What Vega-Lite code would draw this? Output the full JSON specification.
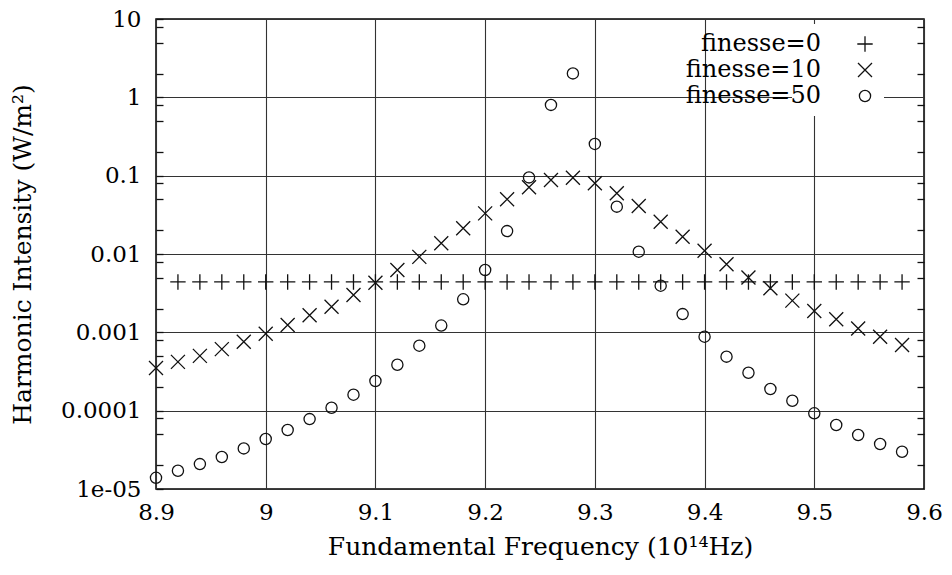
{
  "$schema": "https://vega.github.io/schema/vega-lite/v6.json",
  "width": 768,
  "height": 470,
  "autosize": "none",
  "padding": {"left": 156, "top": 19, "right": 28, "bottom": 86},
  "background": "white",
  "config": {
    "font": "DejaVu Serif",
    "view": {"stroke": "#000", "strokeWidth": 1.5},
    "axis": {
      "gridColor": "#333",
      "gridWidth": 1.1,
      "labelColor": "#000",
      "titleColor": "#000",
      "labelFont": "DejaVu Serif",
      "titleFont": "DejaVu Serif",
      "labelFontSize": 23,
      "titleFontSize": 25,
      "titleFontWeight": "normal",
      "domain": false,
      "labelOverlap": false
    },
    "legend": {
      "labelFont": "DejaVu Serif",
      "labelFontSize": 24,
      "labelColor": "#000"
    }
  },
  "data": {
    "values": [
      {"f": 8.92, "I": 0.0044, "s": "finesse=0"},
      {"f": 8.94, "I": 0.0044, "s": "finesse=0"},
      {"f": 8.96, "I": 0.0044, "s": "finesse=0"},
      {"f": 8.98, "I": 0.0044, "s": "finesse=0"},
      {"f": 9.00, "I": 0.0044, "s": "finesse=0"},
      {"f": 9.02, "I": 0.0044, "s": "finesse=0"},
      {"f": 9.04, "I": 0.0044, "s": "finesse=0"},
      {"f": 9.06, "I": 0.0044, "s": "finesse=0"},
      {"f": 9.08, "I": 0.0044, "s": "finesse=0"},
      {"f": 9.10, "I": 0.0044, "s": "finesse=0"},
      {"f": 9.12, "I": 0.0044, "s": "finesse=0"},
      {"f": 9.14, "I": 0.0044, "s": "finesse=0"},
      {"f": 9.16, "I": 0.0044, "s": "finesse=0"},
      {"f": 9.18, "I": 0.0044, "s": "finesse=0"},
      {"f": 9.20, "I": 0.0044, "s": "finesse=0"},
      {"f": 9.22, "I": 0.0044, "s": "finesse=0"},
      {"f": 9.24, "I": 0.0044, "s": "finesse=0"},
      {"f": 9.26, "I": 0.0044, "s": "finesse=0"},
      {"f": 9.28, "I": 0.0044, "s": "finesse=0"},
      {"f": 9.30, "I": 0.0044, "s": "finesse=0"},
      {"f": 9.32, "I": 0.0044, "s": "finesse=0"},
      {"f": 9.34, "I": 0.0044, "s": "finesse=0"},
      {"f": 9.36, "I": 0.0044, "s": "finesse=0"},
      {"f": 9.38, "I": 0.0044, "s": "finesse=0"},
      {"f": 9.40, "I": 0.0044, "s": "finesse=0"},
      {"f": 9.42, "I": 0.0044, "s": "finesse=0"},
      {"f": 9.44, "I": 0.0044, "s": "finesse=0"},
      {"f": 9.46, "I": 0.0044, "s": "finesse=0"},
      {"f": 9.48, "I": 0.0044, "s": "finesse=0"},
      {"f": 9.50, "I": 0.0044, "s": "finesse=0"},
      {"f": 9.52, "I": 0.0044, "s": "finesse=0"},
      {"f": 9.54, "I": 0.0044, "s": "finesse=0"},
      {"f": 9.56, "I": 0.0044, "s": "finesse=0"},
      {"f": 9.58, "I": 0.0044, "s": "finesse=0"},
      {"f": 8.90, "I": 0.00035, "s": "finesse=10"},
      {"f": 8.92, "I": 0.00042, "s": "finesse=10"},
      {"f": 8.94, "I": 0.00050, "s": "finesse=10"},
      {"f": 8.96, "I": 0.00061, "s": "finesse=10"},
      {"f": 8.98, "I": 0.00076, "s": "finesse=10"},
      {"f": 9.00, "I": 0.00096, "s": "finesse=10"},
      {"f": 9.02, "I": 0.00124, "s": "finesse=10"},
      {"f": 9.04, "I": 0.00165, "s": "finesse=10"},
      {"f": 9.06, "I": 0.00212, "s": "finesse=10"},
      {"f": 9.08, "I": 0.00299, "s": "finesse=10"},
      {"f": 9.10, "I": 0.0043, "s": "finesse=10"},
      {"f": 9.12, "I": 0.00625, "s": "finesse=10"},
      {"f": 9.14, "I": 0.0092, "s": "finesse=10"},
      {"f": 9.16, "I": 0.0137, "s": "finesse=10"},
      {"f": 9.18, "I": 0.0213, "s": "finesse=10"},
      {"f": 9.20, "I": 0.033, "s": "finesse=10"},
      {"f": 9.22, "I": 0.050, "s": "finesse=10"},
      {"f": 9.24, "I": 0.071, "s": "finesse=10"},
      {"f": 9.26, "I": 0.088, "s": "finesse=10"},
      {"f": 9.28, "I": 0.094, "s": "finesse=10"},
      {"f": 9.30, "I": 0.080, "s": "finesse=10"},
      {"f": 9.32, "I": 0.0595, "s": "finesse=10"},
      {"f": 9.34, "I": 0.041, "s": "finesse=10"},
      {"f": 9.36, "I": 0.0258, "s": "finesse=10"},
      {"f": 9.38, "I": 0.0166, "s": "finesse=10"},
      {"f": 9.40, "I": 0.0110, "s": "finesse=10"},
      {"f": 9.42, "I": 0.0074, "s": "finesse=10"},
      {"f": 9.44, "I": 0.0050, "s": "finesse=10"},
      {"f": 9.46, "I": 0.00365, "s": "finesse=10"},
      {"f": 9.48, "I": 0.00254, "s": "finesse=10"},
      {"f": 9.50, "I": 0.00187, "s": "finesse=10"},
      {"f": 9.52, "I": 0.00147, "s": "finesse=10"},
      {"f": 9.54, "I": 0.00112, "s": "finesse=10"},
      {"f": 9.56, "I": 0.00088, "s": "finesse=10"},
      {"f": 9.58, "I": 0.00069, "s": "finesse=10"},
      {"f": 8.90, "I": 0.0000139, "s": "finesse=50"},
      {"f": 8.92, "I": 0.0000171, "s": "finesse=50"},
      {"f": 8.94, "I": 0.0000208, "s": "finesse=50"},
      {"f": 8.96, "I": 0.0000256, "s": "finesse=50"},
      {"f": 8.98, "I": 0.000033, "s": "finesse=50"},
      {"f": 9.00, "I": 0.0000435, "s": "finesse=50"},
      {"f": 9.02, "I": 0.0000566, "s": "finesse=50"},
      {"f": 9.04, "I": 0.000078, "s": "finesse=50"},
      {"f": 9.06, "I": 0.000109, "s": "finesse=50"},
      {"f": 9.08, "I": 0.00016, "s": "finesse=50"},
      {"f": 9.10, "I": 0.000239, "s": "finesse=50"},
      {"f": 9.12, "I": 0.000386, "s": "finesse=50"},
      {"f": 9.14, "I": 0.000675, "s": "finesse=50"},
      {"f": 9.16, "I": 0.00122, "s": "finesse=50"},
      {"f": 9.18, "I": 0.00264, "s": "finesse=50"},
      {"f": 9.20, "I": 0.00625, "s": "finesse=50"},
      {"f": 9.22, "I": 0.0196, "s": "finesse=50"},
      {"f": 9.24, "I": 0.095, "s": "finesse=50"},
      {"f": 9.26, "I": 0.80, "s": "finesse=50"},
      {"f": 9.28, "I": 2.02, "s": "finesse=50"},
      {"f": 9.30, "I": 0.254, "s": "finesse=50"},
      {"f": 9.32, "I": 0.0402, "s": "finesse=50"},
      {"f": 9.34, "I": 0.0107, "s": "finesse=50"},
      {"f": 9.36, "I": 0.00394, "s": "finesse=50"},
      {"f": 9.38, "I": 0.00171, "s": "finesse=50"},
      {"f": 9.40, "I": 0.00088, "s": "finesse=50"},
      {"f": 9.42, "I": 0.000489, "s": "finesse=50"},
      {"f": 9.44, "I": 0.000305, "s": "finesse=50"},
      {"f": 9.46, "I": 0.000189, "s": "finesse=50"},
      {"f": 9.48, "I": 0.000134, "s": "finesse=50"},
      {"f": 9.50, "I": 0.0000925, "s": "finesse=50"},
      {"f": 9.52, "I": 0.0000656, "s": "finesse=50"},
      {"f": 9.54, "I": 0.0000489, "s": "finesse=50"},
      {"f": 9.56, "I": 0.0000375, "s": "finesse=50"},
      {"f": 9.58, "I": 0.0000299, "s": "finesse=50"}
    ]
  },
  "resolve": {"axis": {"x": "independent", "y": "independent"}},
  "layer": [
    {
      "mark": {"type": "point", "filled": false, "stroke": "#111", "strokeWidth": 1.3, "size": 196, "opacity": 1},
      "encoding": {
        "x": {"field": "f", "type": "quantitative", "scale": {"domain": [8.9, 9.6], "nice": false, "zero": false},
          "axis": {"orient": "bottom", "values": [8.9, 9.0, 9.1, 9.2, 9.3, 9.4, 9.5, 9.6], "labelExpr": "toString(datum.value)",
            "grid": true, "ticks": false, "labelPadding": 12, "labelFlush": false, "title": "Fundamental Frequency (10¹⁴Hz)", "titlePadding": 10}},
        "y": {"field": "I", "type": "quantitative", "scale": {"type": "log", "domain": [0.00001, 10], "nice": false},
          "axis": {"orient": "left",
            "values": [0.00001, 0.00002, 0.00005, 0.00008, 0.0001, 0.0002, 0.0005, 0.0008, 0.001, 0.002, 0.005, 0.008, 0.01, 0.02, 0.05, 0.08, 0.1, 0.2, 0.5, 0.8, 1, 2, 5, 8, 10],
            "labelExpr": "abs(log(datum.value)/LN10 - round(log(datum.value)/LN10)) > 0.01 ? '' : (datum.value < 0.00005 ? '1e-05' : toString(datum.value))",
            "grid": true,
            "gridOpacity": {"condition": {"test": "abs(log(datum.value)/LN10 - round(log(datum.value)/LN10)) > 0.01", "value": 0}, "value": 1},
            "ticks": true, "tickSize": -7, "tickColor": "#111", "tickWidth": 1.3,
            "labelPadding": 22, "title": "Harmonic Intensity (W/m²)", "titlePadding": 25}},
        "shape": {"field": "s", "type": "nominal",
          "scale": {"domain": ["finesse=0", "finesse=10", "finesse=50"], "range": ["M-1.1,0L1.1,0M0,-1.1L0,1.1", "M-1,-1L1,1M-1,1L1,-1", "M0.8,0A0.8,0.8 0 1,1 -0.8,0A0.8,0.8 0 1,1 0.8,0Z"]},
          "legend": {"title": null, "orient": "none", "legendX": 636, "legendY": 5, "fillColor": "white", "padding": 8,
            "labelAlign": "right", "labelOffset": -56, "symbolOffset": 53, "symbolSize": 196, "symbolStrokeWidth": 1.3, "symbolStrokeColor": "#111", "symbolFillColor": "transparent"}}
      }
    },
    {
      "mark": {"type": "point", "opacity": 0},
      "encoding": {
        "x": {"field": "f", "type": "quantitative", "axis": null},
        "y": {"field": "I", "type": "quantitative",
          "axis": {"orient": "right", "offset": -7, "values": [0.00002, 0.00005, 0.00008, 0.0002, 0.0005, 0.0008, 0.002, 0.005, 0.008, 0.02, 0.05, 0.08, 0.2, 0.5, 0.8, 2, 5, 8],
            "labels": false, "grid": false, "ticks": true, "tickSize": 7, "tickColor": "#111", "tickWidth": 1.3, "title": null}}
      }
    }
  ]
}
